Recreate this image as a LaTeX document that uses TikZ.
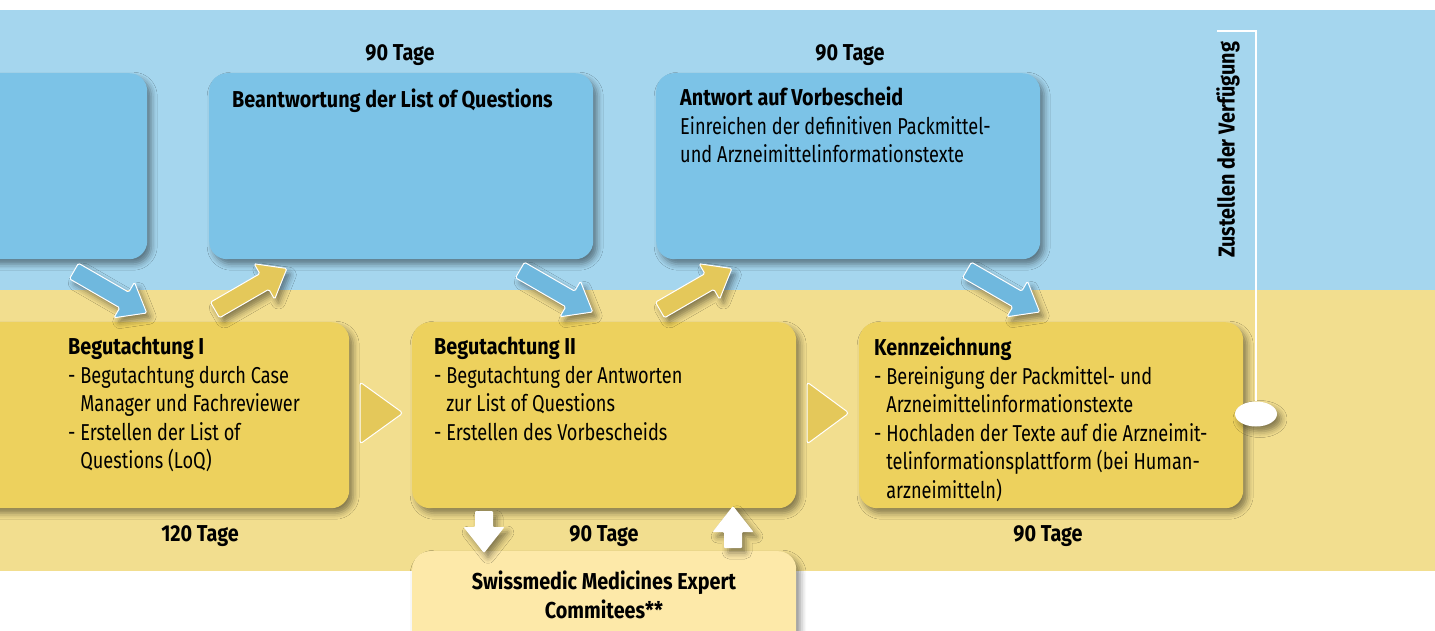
\documentclass[tikz,border=0pt]{standalone}
\usepackage{fontspec}
\setmainfont{Fira Sans}[FakeStretch=0.79, BoldFeatures={FakeStretch=0.86}]
\usetikzlibrary{shadows.blur,shapes.geometric}
\definecolor{bandblue}{HTML}{A5D6EE}
\definecolor{boxblue}{HTML}{7CC3E7}
\definecolor{arrowblue}{HTML}{6FB8DE}
\definecolor{bandyellow}{HTML}{F2DE8F}
\definecolor{boxyellow}{HTML}{EDD15D}
\definecolor{arrowyellow}{HTML}{E4C85A}
\definecolor{boxcream}{HTML}{FDE9A9}
\newcommand{\fatarrow}[4]{%
  \begin{scope}[shift={#2}, rotate=#3]
    \path[#1] (0,-9) -- ({#4-26},-9) -- ({#4-26},-20.5) -- (#4,0) -- ({#4-26},20.5) -- ({#4-26},9) -- (0,9) -- cycle;
  \end{scope}}
\begin{document}
\begin{tikzpicture}[x=1pt,y=-1pt,
  shadowed/.style={blur shadow={shadow xshift=4pt, shadow yshift=-5pt, shadow blur radius=6pt, shadow opacity=45}},
  box/.style={shape=rectangle, rounded corners=18pt, inner sep=0pt, minimum width=384pt, minimum height=186pt, anchor=north west, shadowed},
  bbox/.style={box, fill=boxblue},
  ybox/.style={box, fill=boxyellow},
  txt/.style={inner sep=0pt, anchor=north west, align=left, font=\fontsize{23}{28.5}\selectfont, execute at begin node=\rule{0pt}{20pt}},
  days/.style={inner sep=0pt, anchor=base, font=\fontsize{23}{28.5}\selectfont\bfseries},
  barrow/.style={fill=arrowblue, draw=white, line width=1pt, rounded corners=1.5pt, shadowed},
  yarrow/.style={fill=arrowyellow, draw=white, line width=1pt, rounded corners=1.5pt, shadowed},
  warrow/.style={fill=white, rounded corners=1pt, shadowed},
  tri/.style={fill=arrowyellow, draw=white, line width=1pt, rounded corners=3pt}
]
\useasboundingbox (0,0) rectangle (1435,630);
\clip (0,0) rectangle (1435,630);
% bands
\fill[bandblue] (0,10) rectangle (1435,290);
\fill[bandyellow] (0,290) rectangle (1435,571);

% blue boxes
\node[bbox] (b1) at (-237,73) {};
\node[bbox] (b2) at (209,73) {};
\node[bbox] (b3) at (656,73) {};
% yellow boxes
\node[ybox] (y1) at (-35,322) {};
\node[ybox] (y2) at (412,322) {};
\node[ybox] (y3) at (859,322) {};
% cream box
\node[box, fill=boxcream, minimum height=100pt] (sm) at (412,551) {};

% texts in blue boxes
\node[txt] (t2) at (232,87) {\textbf{Beantwortung der List of Questions}};
\node[txt] (t3) at (680,87) {\textbf{Antwort auf Vorbescheid}\\
Einreichen der definitiven Packmittel-\\
und Arzneimittelinformationstexte};
% texts in yellow boxes
\node[txt] (u1) at (68,337) {\textbf{Begutachtung I}\\
- Begutachtung durch Case\\
\phantom{- }Manager und Fachreviewer\\
- Erstellen der List of\\
\phantom{- }Questions (LoQ)};
\node[txt] (u2) at (434,337) {\textbf{Begutachtung II}\\
- Begutachtung der Antworten\\
\phantom{- }zur List of Questions\\
- Erstellen des Vorbescheids};
\node[txt] (u3) at (874,337) {\textbf{Kennzeichnung}\\
- Bereinigung der Packmittel- und\\
\phantom{- }Arzneimittelinformationstexte\\
- Hochladen der Texte auf die Arzneimit-\\
\phantom{- }telinformationsplattform (bei Human-\\
\phantom{- }arzneimitteln)};
\node[txt, anchor=north, align=center, font=\fontsize{23}{28.5}\selectfont\bfseries] (smt) at (604,571) {Swissmedic Medicines Expert\\Commitees**};

% durations
\node[days] (d1) at (400,60) {90 Tage};
\node[days] (d2) at (850,60) {90 Tage};
\node[days] (d3) at (200,541) {120 Tage};
\node[days] (d4) at (604,541) {90 Tage};
\node[days] (d5) at (1048,541) {90 Tage};

% diagonal arrows
\fatarrow{barrow}{(74,271)}{-30}{84}
\fatarrow{yarrow}{(215,310)}{30}{83}
\fatarrow{barrow}{(520,270)}{-30}{84}
\fatarrow{yarrow}{(660,310)}{30}{83}
\fatarrow{barrow}{(967,270)}{-30}{84}
% white vertical arrows
\fatarrow{warrow}{(484,511)}{-90}{42}
\fatarrow{warrow}{(733,548)}{90}{42}

% triangles between yellow boxes
\path[tri] (360,382) -- (403,413) -- (360,444) -- cycle;
\path[tri] (807,382) -- (849,413) -- (807,444) -- cycle;

% Zustellen der Verfuegung
\node[inner sep=0pt, rotate=90, font=\fontsize{23}{28.5}\selectfont\bfseries] (zv) at (1228,150) {Zustellen der Verfügung};
\node[ellipse, fill=white, minimum width=42pt, minimum height=25pt, inner sep=0pt, shadowed] (dot) at (1256,414) {};
\coordinate (lt) at (1217,31);
\draw[white, line width=1.5pt] (lt) -| (dot.north);
\end{tikzpicture}
\end{document}
